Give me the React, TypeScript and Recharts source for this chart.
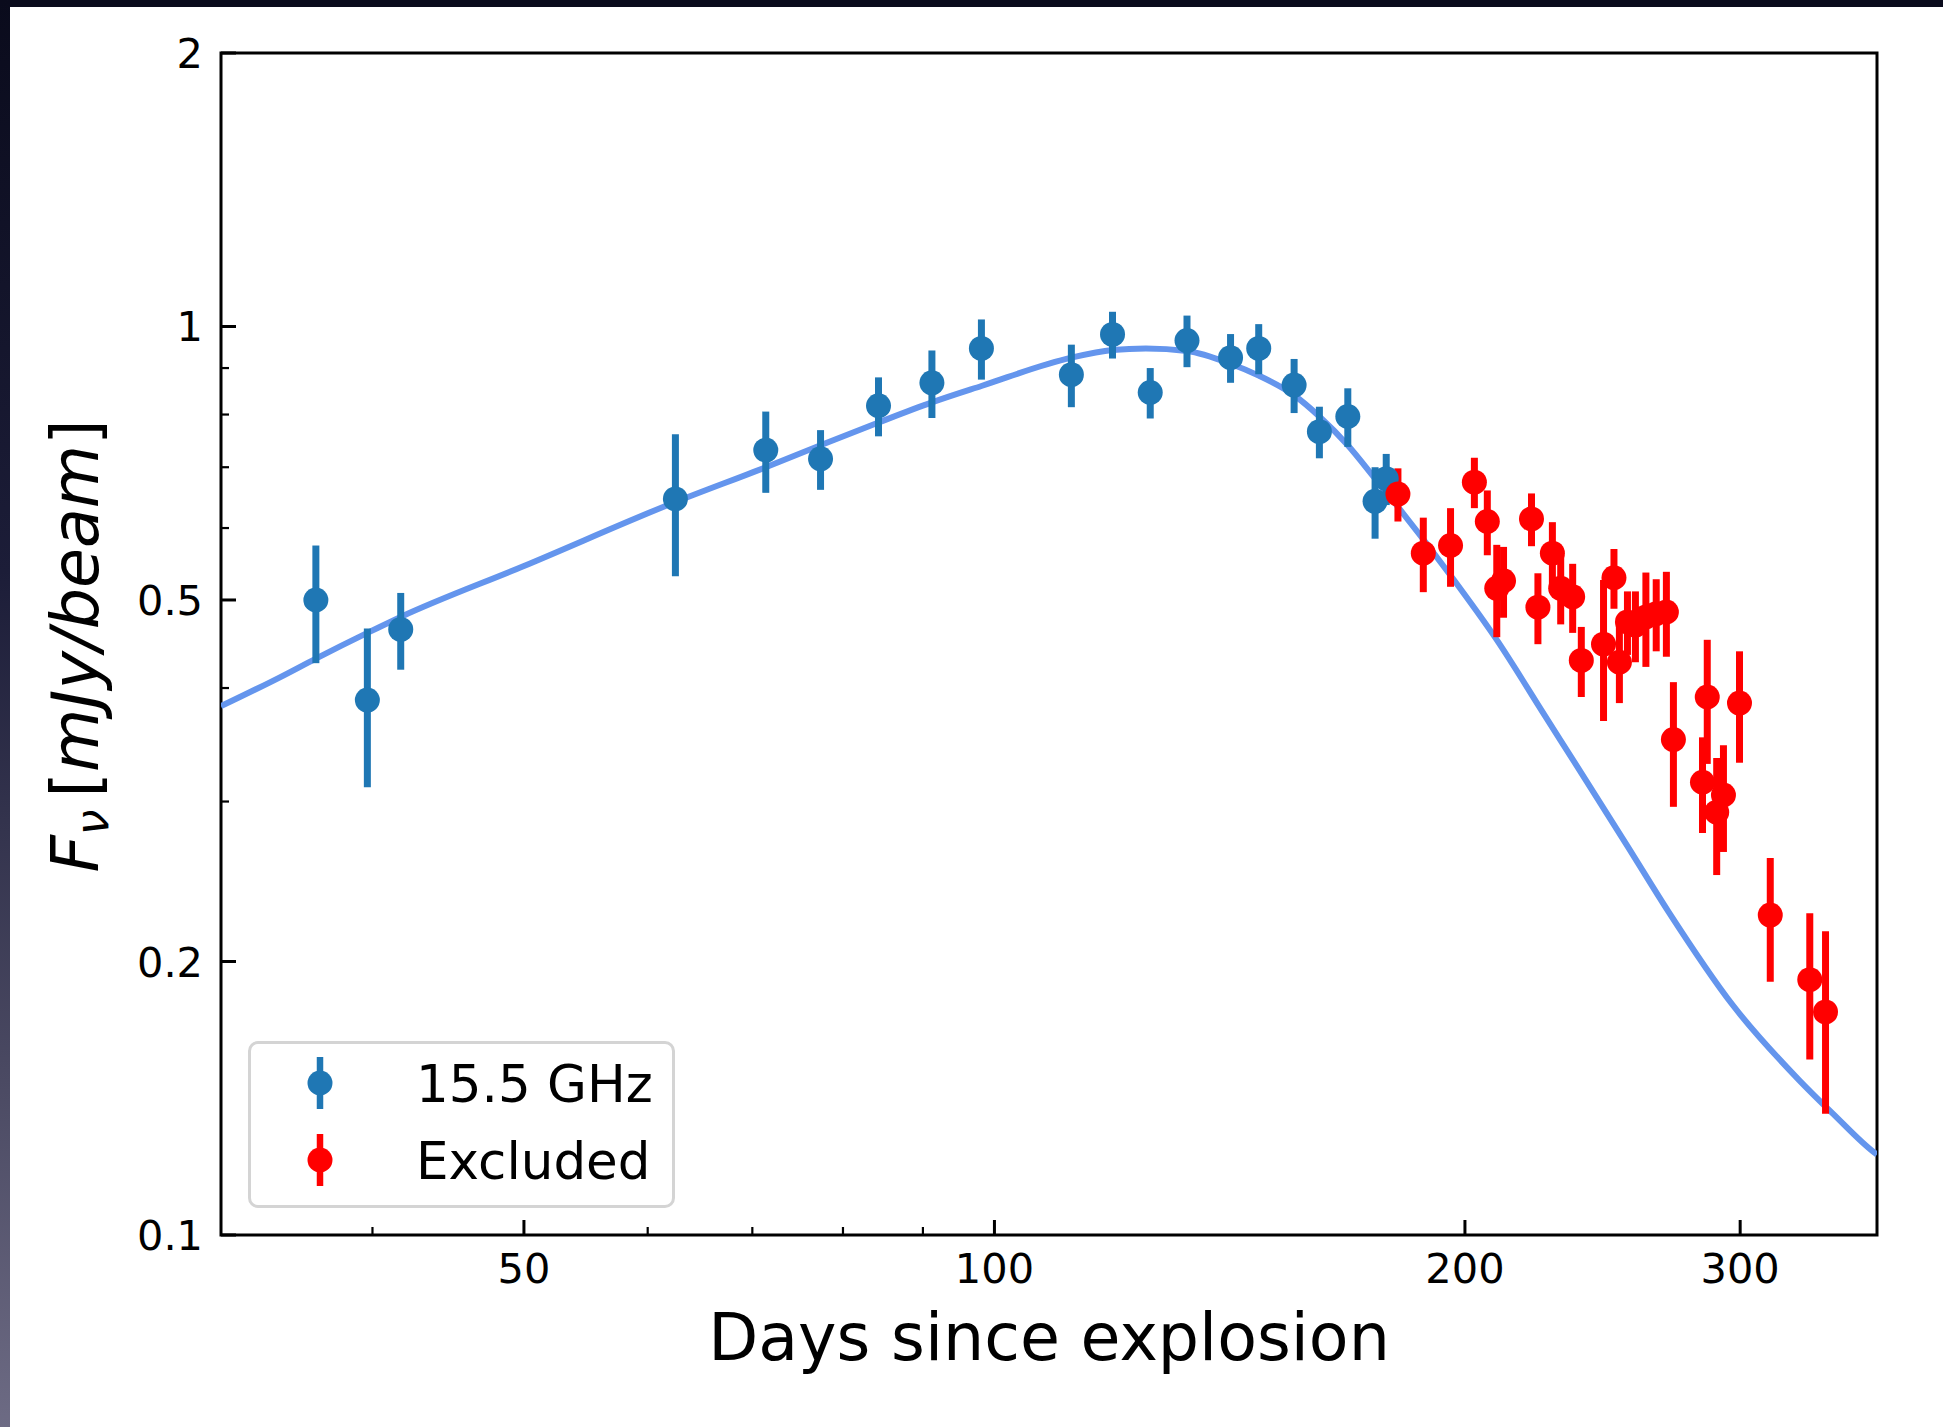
import React from "react";
import {
  ComposedChart,
  Line,
  Scatter,
  ErrorBar,
  XAxis,
  YAxis,
  ReferenceArea,
  Legend,
} from "recharts";

// model light curve
const modelDays = [
  32.0, 34.9, 36.8, 39.7, 41.7, 50.0, 62.5, 71.4, 77.4, 84.3, 91.2, 98.1, 112.0,
  119.0, 125.0, 132.8, 141.6, 147.6, 155.5, 161.4, 168.3, 175.2, 181.2, 196.3,
  209.4, 225.2, 239.2, 254.1, 269.9, 296.8, 327.3, 343.9, 365.6, 367.0,
];
const modelFlux = [
  0.382, 0.411, 0.431, 0.46, 0.479, 0.545, 0.641, 0.7, 0.74, 0.784, 0.825, 0.86,
  0.924, 0.942, 0.946, 0.94, 0.91, 0.883, 0.84, 0.796, 0.74, 0.68, 0.633, 0.529,
  0.453, 0.372, 0.316, 0.268, 0.227, 0.179, 0.148, 0.136, 0.1232, 0.1226,
];

// 15.5 GHz points used in the fit
const fitDays = [
  36.8, 39.7, 41.7, 62.5, 71.4, 77.4, 84.3, 91.2, 98.1, 112.0, 119.0, 125.8,
  132.8, 141.6, 147.6, 155.5, 161.4, 168.3, 175.2, 178.1,
];
const fitFlux = [
  0.5, 0.388, 0.464, 0.646, 0.731, 0.715, 0.818, 0.867, 0.946, 0.885, 0.98,
  0.846, 0.965, 0.924, 0.946, 0.862, 0.766, 0.796, 0.642, 0.68,
];
const fitErr = [
  0.074, 0.077, 0.045, 0.115, 0.075, 0.054, 0.061, 0.074, 0.072, 0.07, 0.058,
  0.054, 0.063, 0.057, 0.06, 0.059, 0.05, 0.059, 0.058, 0.044,
];

// excluded points
const exclDays = [
  181.2, 188.1, 195.8, 202.8, 206.7, 209.6, 211.7, 220.6, 222.7, 227.5, 230.3,
  234.4, 237.4, 245.3, 249.1, 251.1, 254.1, 257.1, 261.1, 265.1, 269.1, 271.9,
  283.8, 285.8, 289.8, 292.7, 299.7, 313.6, 332.4, 340.2,
];
const exclFlux = [
  0.654, 0.563, 0.574, 0.674, 0.61, 0.515, 0.525, 0.614, 0.491, 0.563, 0.515,
  0.504, 0.429, 0.447, 0.529, 0.427, 0.473, 0.469, 0.479, 0.483, 0.485, 0.351,
  0.315, 0.391, 0.292, 0.305, 0.385, 0.225, 0.191, 0.176,
];
const exclErr = [
  0.044, 0.053, 0.057, 0.043, 0.05, 0.06, 0.047, 0.041, 0.044, 0.046, 0.045,
  0.044, 0.038, 0.079, 0.04, 0.042, 0.038, 0.042, 0.057, 0.044, 0.052, 0.055,
  0.038, 0.061, 0.043, 0.041, 0.054, 0.035, 0.035, 0.04,
];

const xTicks = [40, 50, 60, 70, 80, 90, 100, 200, 300];
const xTickLabels = [50, 100, 200, 300];
const yTicks = [0.1, 0.2, 0.3, 0.4, 0.5, 0.6, 0.7, 0.8, 0.9, 1, 2];
const yTickLabels = [0.1, 0.2, 0.5, 1, 2];

const legendNames = ["15.5 GHz", "Excluded"];
const legendColors = ["#1f77b4", "#ff0000"];

const FONT = "'DejaVu Sans', sans-serif";
const BLUE = "#1f77b4";
const RED = "#ff0000";

const modelData = modelDays.map((d, i) => ({ day: d, flux: modelFlux[i] }));
const fitData = fitDays.map((d, i) => ({ day: d, flux: fitFlux[i], err: fitErr[i] }));
const exclData = exclDays.map((d, i) => ({ day: d, flux: exclFlux[i], err: exclErr[i] }));

const XTick = (props: any) => {
  const { x, y, payload } = props;
  const major = xTickLabels.includes(payload.value);
  return (
    <g>
      <line x1={x} x2={x} y1={y} y2={y - (major ? 15 : 8)} stroke="#000" strokeWidth={major ? 3 : 2.2} />
      {major && (
        <text x={x} y={y + 48} textAnchor="middle" fontSize={41.5} fontFamily={FONT} fill="#000">
          {payload.value}
        </text>
      )}
    </g>
  );
};

const YTick = (props: any) => {
  const { x, y, payload } = props;
  const major = yTickLabels.includes(payload.value);
  return (
    <g>
      <line x1={x} x2={x + (major ? 15 : 8)} y1={y} y2={y} stroke="#000" strokeWidth={major ? 3 : 2.2} />
      {major && (
        <text x={x - 18} y={y + 15} textAnchor="end" fontSize={41.5} fontFamily={FONT} fill="#000">
          {String(payload.value)}
        </text>
      )}
    </g>
  );
};

const dot = (color: string) => (p: any) =>
  <circle cx={p.cx} cy={p.cy} r={12.5} fill={color} />;

const renderXLabel = (props: any) => {
  const vb = props.viewBox;
  return (
    <text x={vb.x + vb.width / 2} y={1360} textAnchor="middle" fontSize={65} fontFamily={FONT} fill="#000">
      Days since explosion
    </text>
  );
};

const renderYLabel = (props: any) => {
  const vb = props.viewBox;
  const cx = 98;
  const cy = vb.y + vb.height / 2 + 2;
  return (
    <text
      x={cx}
      y={cy}
      transform={`rotate(-90, ${cx}, ${cy})`}
      textAnchor="middle"
      fontSize={65}
      fontFamily={FONT}
      fill="#000"
    >
      <tspan fontStyle="italic">F</tspan>
      <tspan fontStyle="italic" fontSize={46} dy={10}>ν</tspan>
      <tspan dy={-10} dx={12}>[</tspan>
      <tspan fontStyle="italic">mJy/beam</tspan>
      <tspan>]</tspan>
    </text>
  );
};

const renderLegend = () => (
  <div
    style={{
      boxSizing: "border-box",
      width: 427,
      height: 167,
      border: "3.5px solid #d4d4d4",
      borderRadius: 10,
      background: "rgba(255,255,255,0.8)",
      position: "relative",
    }}
  >
    <svg width={427} height={167} style={{ position: "absolute", left: -3.5, top: -3.5 }}>
      {legendNames.map((name, i) => {
        const cy = 42 + i * 77;
        return (
          <g key={name}>
            <line x1={72} x2={72} y1={cy - 26} y2={cy + 26} stroke={legendColors[i]} strokeWidth={6.5} />
            <circle cx={72} cy={cy} r={12.5} fill={legendColors[i]} />
            <text x={168} y={cy + 19} fontSize={51.5} fontFamily={FONT} fill="#000">
              {name}
            </text>
          </g>
        );
      })}
    </svg>
  </div>
);

export default function App() {
  return (
    <div
      style={{
        position: "absolute",
        left: 0,
        top: 0,
        width: 1943,
        height: 1427,
        background: "#fff",
        overflow: "hidden",
      }}
    >
      <ComposedChart
        width={1943}
        height={1427}
        margin={{ top: 53, right: 66, left: 0, bottom: 0 }}
      >
        <XAxis
          dataKey="day"
          type="number"
          scale="log"
          domain={[32, 367]}
          allowDataOverflow
          ticks={xTicks}
          interval={0}
          tickSize={0}
          tickMargin={0}
          axisLine={false}
          tickLine={false}
          tick={<XTick />}
          height={192}
          label={renderXLabel}
        />
        <YAxis
          dataKey="flux"
          type="number"
          scale="log"
          domain={[0.1, 2]}
          allowDataOverflow
          ticks={yTicks}
          interval={0}
          tickSize={0}
          tickMargin={0}
          axisLine={false}
          tickLine={false}
          tick={<YTick />}
          width={221}
          label={renderYLabel}
        />
        <ReferenceArea
          x1={32}
          x2={367}
          y1={0.1}
          y2={2}
          fill="none"
          fillOpacity={0}
          stroke="#000"
          strokeWidth={3}
          ifOverflow="visible"
        />
        <Line
          data={modelData}
          dataKey="flux"
          type="monotone"
          stroke="#6495ED"
          strokeWidth={6}
          dot={false}
          activeDot={false}
          legendType="none"
          isAnimationActive={false}
        />
        <Scatter name="15.5 GHz" data={fitData} fill={BLUE} shape={dot(BLUE)} isAnimationActive={false}>
          <ErrorBar dataKey="err" direction="y" width={0} stroke={BLUE} strokeWidth={7} />
        </Scatter>
        <Scatter name="Excluded" data={exclData} fill={RED} shape={dot(RED)} isAnimationActive={false}>
          <ErrorBar dataKey="err" direction="y" width={0} stroke={RED} strokeWidth={7} />
        </Scatter>
        <Legend
          layout="vertical"
          align="center"
          verticalAlign="middle"
          wrapperStyle={{ left: 248, top: 1041, width: 427, height: 167, margin: 0, padding: 0 }}
          content={renderLegend}
        />
      </ComposedChart>
      <div style={{ position: "absolute", left: 0, top: 0, width: 1943, height: 7, background: "#0a0b1c" }} />
      <div
        style={{
          position: "absolute",
          left: 0,
          top: 0,
          width: 10,
          height: 1427,
          background: "linear-gradient(to bottom, #0a0b1c 0%, #1c1d38 40%, #4a4962 75%, #6d6b84 100%)",
        }}
      />
    </div>
  );
}
